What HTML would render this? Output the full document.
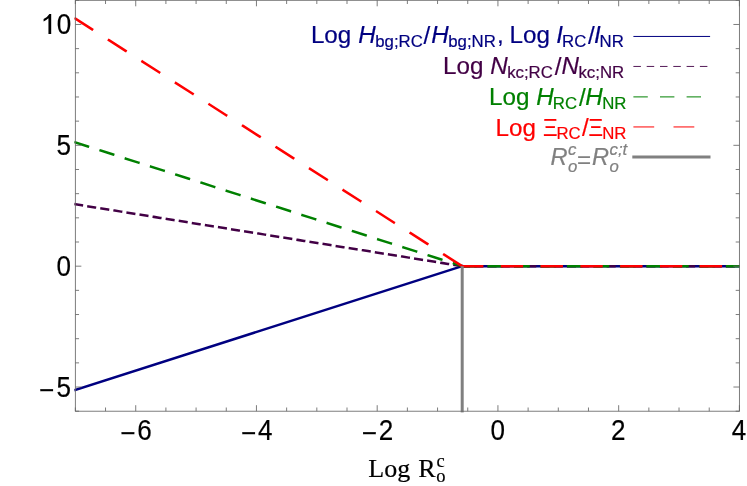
<!DOCTYPE html>
<html><head><meta charset="utf-8"><title>plot</title>
<style>
html,body{margin:0;padding:0;background:#fff;}
body{width:747px;height:486px;overflow:hidden;}
svg{display:block;will-change:transform;}
.s{font-family:"Liberation Sans",sans-serif;stroke-width:0.2px;}
.f{font-family:"Liberation Serif",serif;stroke:#000;stroke-width:0.2px;}
</style></head><body>
<svg width="747" height="486" viewBox="0 0 747 486">
<defs><clipPath id="cp"><rect x="74.3" y="0" width="665.60" height="486"/></clipPath></defs>
<rect width="747" height="486" fill="#fff"/>
<g clip-path="url(#cp)">
<path d="M75.35 389.93L462.20 266.18M462.20 266.18L739.40 266.18" fill="none" stroke="#000080" stroke-width="2.5" stroke-linecap="square"/>
<path d="M75.35 204.30L462.20 266.18M462.20 266.18L739.40 266.18" fill="none" stroke="#420045" stroke-width="2.5" stroke-linecap="square" stroke-dasharray="6.62 6.62"/>
<path d="M75.35 142.42L462.20 266.18M462.20 266.18L739.40 266.18" fill="none" stroke="#008000" stroke-width="2.5" stroke-linecap="square" stroke-dasharray="13.25 13.25"/>
<path d="M75.35 18.67L462.20 266.18M462.20 266.18L739.40 266.18" fill="none" stroke="#ff0000" stroke-width="2.5" stroke-linecap="square" stroke-dasharray="19.9 19.9"/>
</g>
<line x1="462.20" y1="266.18" x2="462.20" y2="412.40" stroke="#808080" stroke-width="3"/>
<rect x="75.35" y="0.30" width="664.05" height="410.90" fill="none" stroke="#666666" stroke-width="0.85"/>
<path d="M75.35 411.20v-3.7M75.35 0.30v3.7M105.53 411.20v-3.7M105.53 0.30v3.7M135.72 411.20v-6.0M135.72 0.30v6.0M165.90 411.20v-3.7M165.90 0.30v3.7M196.09 411.20v-3.7M196.09 0.30v3.7M226.27 411.20v-3.7M226.27 0.30v3.7M256.45 411.20v-6.0M256.45 0.30v6.0M286.64 411.20v-3.7M286.64 0.30v3.7M316.82 411.20v-3.7M316.82 0.30v3.7M347.01 411.20v-3.7M347.01 0.30v3.7M377.19 411.20v-6.0M377.19 0.30v6.0M407.38 411.20v-3.7M407.38 0.30v3.7M437.56 411.20v-3.7M437.56 0.30v3.7M467.74 411.20v-3.7M467.74 0.30v3.7M497.93 411.20v-6.0M497.93 0.30v6.0M528.11 411.20v-3.7M528.11 0.30v3.7M558.30 411.20v-3.7M558.30 0.30v3.7M588.48 411.20v-3.7M588.48 0.30v3.7M618.66 411.20v-6.0M618.66 0.30v6.0M648.85 411.20v-3.7M648.85 0.30v3.7M679.03 411.20v-3.7M679.03 0.30v3.7M709.22 411.20v-3.7M709.22 0.30v3.7M739.40 411.20v-6.0M739.40 0.30v6.0M75.35 411.20h3.7M739.40 411.20h-3.7M75.35 387.03h6.0M739.40 387.03h-6.0M75.35 362.86h3.7M739.40 362.86h-3.7M75.35 338.69h3.7M739.40 338.69h-3.7M75.35 314.52h3.7M739.40 314.52h-3.7M75.35 290.35h3.7M739.40 290.35h-3.7M75.35 266.18h6.0M739.40 266.18h-6.0M75.35 242.01h3.7M739.40 242.01h-3.7M75.35 217.84h3.7M739.40 217.84h-3.7M75.35 193.66h3.7M739.40 193.66h-3.7M75.35 169.49h3.7M739.40 169.49h-3.7M75.35 145.32h6.0M739.40 145.32h-6.0M75.35 121.15h3.7M739.40 121.15h-3.7M75.35 96.98h3.7M739.40 96.98h-3.7M75.35 72.81h3.7M739.40 72.81h-3.7M75.35 48.64h3.7M739.40 48.64h-3.7M75.35 24.47h6.0M739.40 24.47h-6.0M75.35 0.30h3.7M739.40 0.30h-3.7" stroke="#666666" stroke-width="0.85" fill="none"/>
<line x1="633.4" y1="36.45" x2="710.1" y2="36.45" stroke="#000080" stroke-width="1.0"/>
<line x1="633.4" y1="66.45" x2="710.1" y2="66.45" stroke="#420045" stroke-width="0.9" stroke-dasharray="7.5 5.8"/>
<line x1="633.4" y1="96.9" x2="710.1" y2="96.9" stroke="#008000" stroke-width="1.0" stroke-dasharray="14.4 12.2"/>
<line x1="633.4" y1="126.95" x2="710.1" y2="126.95" stroke="#ff0000" stroke-width="1.0" stroke-dasharray="20.8 19.3"/>
<line x1="632.3" y1="157.0" x2="710.5" y2="157.0" stroke="#808080" stroke-width="2.9"/>
<text transform="translate(137.02 440.3) scale(0.905 1)" font-size="28.8" letter-spacing="1.1" text-anchor="middle" class="s" stroke="#000"><tspan dx="-0.45" dy="2.7">−</tspan><tspan dx="0.45" dy="-2.7">6</tspan></text>
<text transform="translate(257.75 440.3) scale(0.905 1)" font-size="28.8" letter-spacing="1.1" text-anchor="middle" class="s" stroke="#000"><tspan dx="-0.45" dy="2.7">−</tspan><tspan dx="0.45" dy="-2.7">4</tspan></text>
<text transform="translate(378.49 440.3) scale(0.905 1)" font-size="28.8" letter-spacing="1.1" text-anchor="middle" class="s" stroke="#000"><tspan dx="-0.45" dy="2.7">−</tspan><tspan dx="0.45" dy="-2.7">2</tspan></text>
<text transform="translate(498.13 440.3) scale(0.905 1)" font-size="28.8" letter-spacing="1.1" text-anchor="middle" class="s" stroke="#000">0</text>
<text transform="translate(618.86 440.3) scale(0.905 1)" font-size="28.8" letter-spacing="1.1" text-anchor="middle" class="s" stroke="#000">2</text>
<text transform="translate(739.60 440.3) scale(0.905 1)" font-size="28.8" letter-spacing="1.1" text-anchor="middle" class="s" stroke="#000">4</text>
<text transform="translate(72.90 396.88) scale(0.905 1)" font-size="28.8" letter-spacing="1.1" text-anchor="end" class="s" stroke="#000"><tspan dx="-1.1" dy="2.7">−</tspan><tspan dx="1.1" dy="-2.7">5</tspan></text>
<text transform="translate(71.10 276.03) scale(0.905 1)" font-size="28.8" letter-spacing="0" text-anchor="end" class="s" stroke="#000">0</text>
<text transform="translate(71.10 155.17) scale(0.905 1)" font-size="28.8" letter-spacing="0" text-anchor="end" class="s" stroke="#000">5</text>
<text transform="translate(71.2 34.07) scale(0.905 1)" font-size="28.8" text-anchor="end" class="s" stroke="#000">0</text>
<path d="M51.2 34.0L48.45 34.0L48.45 18.3Q46.4 20.2 43.6 21.4L43.6 18.9Q47.6 17.0 49.4 13.9L51.2 13.9Z" fill="#000"/>
<g fill="#000080" stroke="#000080"><text x="310.91" y="42.80" font-size="24.2" class="s">Log</text><text x="358.26" y="42.80" font-size="24.2" class="s" font-style="italic">H</text><text x="375.22" y="46.80" font-size="16.8" class="s">bg;RC</text><text x="423.60" y="43.50" font-size="24.2" class="s">/</text><text x="431.31" y="42.80" font-size="24.2" class="s" font-style="italic">H</text><text x="448.22" y="46.80" font-size="16.8" class="s">bg;NR</text><text x="496.93" y="42.80" font-size="24.2" class="s">,</text><text x="509.51" y="42.80" font-size="24.2" class="s">Log</text><text x="556.14" y="42.80" font-size="24.2" class="s" font-style="italic">I</text><text x="562.07" y="46.80" font-size="16.8" class="s">RC</text><text x="588.00" y="43.50" font-size="24.2" class="s">/</text><text x="593.94" y="42.80" font-size="24.2" class="s" font-style="italic">I</text><text x="599.62" y="46.80" font-size="16.8" class="s">NR</text></g>
<g fill="#420045" stroke="#420045"><text x="443.01" y="73.90" font-size="24.2" class="s">Log</text><text x="490.26" y="73.90" font-size="24.2" class="s" font-style="italic">N</text><text x="507.17" y="77.70" font-size="16.8" class="s">kc;RC</text><text x="554.70" y="74.60" font-size="24.2" class="s">/</text><text x="561.61" y="73.90" font-size="24.2" class="s" font-style="italic">N</text><text x="578.47" y="77.70" font-size="16.8" class="s">kc;NR</text></g>
<g fill="#008000" stroke="#008000"><text x="489.11" y="105.00" font-size="24.2" class="s">Log</text><text x="536.26" y="105.00" font-size="24.2" class="s" font-style="italic">H</text><text x="552.82" y="108.90" font-size="16.8" class="s">RC</text><text x="578.90" y="105.70" font-size="24.2" class="s">/</text><text x="585.36" y="105.00" font-size="24.2" class="s" font-style="italic">H</text><text x="602.22" y="108.90" font-size="16.8" class="s">NR</text></g>
<g fill="#ff0000" stroke="#ff0000"><text x="495.51" y="135.60" font-size="24.2" class="s">Log</text><text transform="translate(542.92 135.60) scale(0.925 1)" font-size="24.2" class="s">Ξ</text><text x="556.42" y="139.40" font-size="16.8" class="s">RC</text><text x="581.90" y="136.30" font-size="24.2" class="s">/</text><text transform="translate(588.52 135.60) scale(0.925 1)" font-size="24.2" class="s">Ξ</text><text x="602.22" y="139.40" font-size="16.8" class="s">NR</text></g>
<g fill="#808080" stroke="#808080"><text x="550.47" y="165.40" font-size="23.6" class="s" font-style="italic">R</text><text x="567.95" y="154.80" font-size="16.8" class="s" font-style="italic">c</text><text x="567.95" y="171.60" font-size="16.8" class="s" font-style="italic">o</text><text x="577.12" y="167.60" font-size="24.2" class="s">=</text><text x="592.07" y="165.40" font-size="23.6" class="s" font-style="italic">R</text><text x="609.55" y="154.80" font-size="16.8" class="s" font-style="italic">c;t</text><text x="609.55" y="171.60" font-size="16.8" class="s" font-style="italic">o</text></g>
<text x="368.25" y="476.60" font-size="26" class="f">Log</text>
<text x="418.25" y="476.60" font-size="26" class="f">R</text>
<text x="436.50" y="466.60" font-size="18.5" class="f">c</text>
<text x="436.30" y="482.40" font-size="18.5" class="f">o</text>
</svg>
</body></html>
